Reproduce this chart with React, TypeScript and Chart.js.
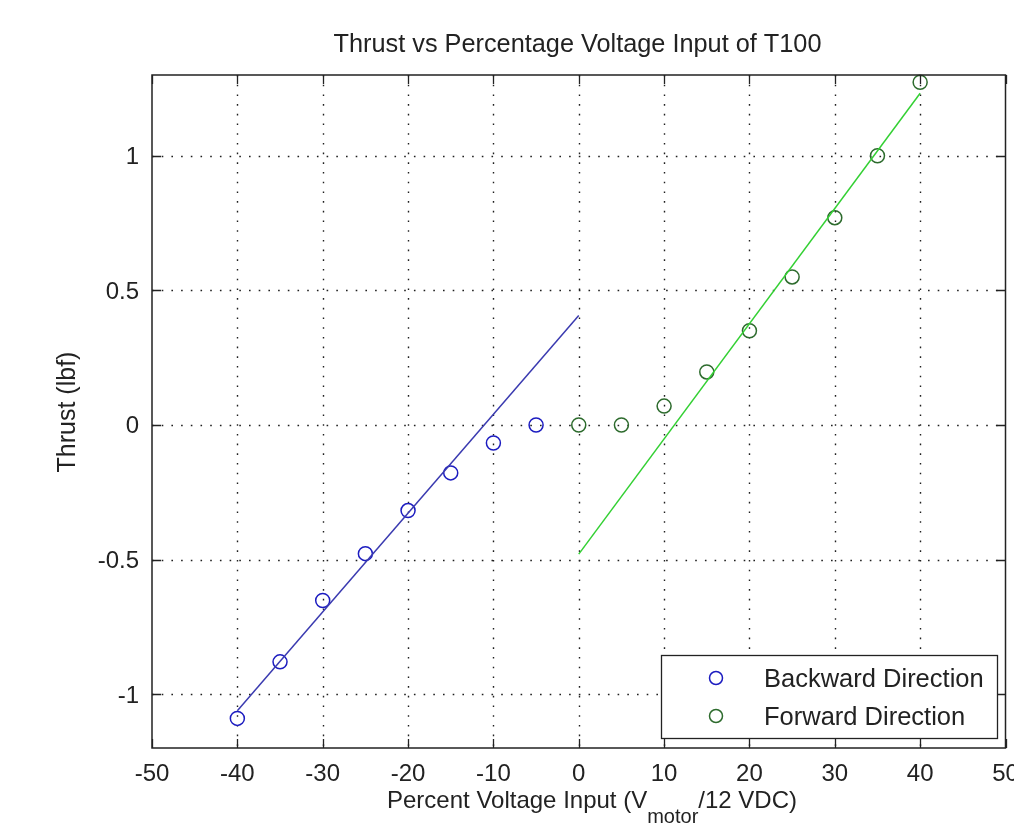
import React, { useEffect, useRef } from "react";
import { Chart, registerables } from "chart.js";

Chart.register(...registerables);

// ---- data ----
const xTickValues = [-50, -40, -30, -20, -10, 0, 10, 20, 30, 40, 50];
const yTickValues = [-1, -0.5, 0, 0.5, 1];
const yTickLabels = ["-1", "-0.5", "0", "0.5", "1"];

const backwardX = [-40, -35, -30, -25, -20, -15, -10, -5];
const backwardY = [-1.09, -0.88, -0.652, -0.478, -0.318, -0.178, -0.067, 0.0];

const forwardX = [0, 5, 10, 15, 20, 25, 30, 35, 40];
const forwardY = [0.0, 0.0, 0.07, 0.197, 0.35, 0.55, 0.77, 1.0, 1.273];

const backwardFitX = [-40, 0];
const backwardFitY = [-1.062, 0.407];
const forwardFitX = [0, 40];
const forwardFitY = [-0.48, 1.232];

const titleText = "Thrust vs Percentage Voltage Input of T100";
const yLabelText = "Thrust (lbf)";
const xLabelMain = "Percent Voltage Input (V";
const xLabelSub = "motor";
const xLabelEnd = "/12 VDC)";
const legendLabels = ["Backward Direction", "Forward Direction"];

const FONT = "'Liberation Sans', Arial, Helvetica, sans-serif";
const BLUE_MARK = "#1c1cc0";
const GREEN_MARK = "#2d6b2d";
const BLUE_LINE = "#3a3ab0";
const GREEN_LINE = "#33d033";
const TEXT = "#222222";

const toPts = (xs: number[], ys: number[]) => xs.map((x, i) => ({ x, y: ys[i] }));

const matlabPlugin = {
  id: "matlabDecor",
  beforeDatasetsDraw(chart: any) {
    const { ctx, chartArea: a, scales } = chart;
    const xs = scales.x;
    const ys = scales.y;
    ctx.save();
    ctx.strokeStyle = "#202020";
    ctx.lineWidth = 1.4;
    ctx.setLineDash([1.6, 8.1]);
    xTickValues.forEach((v) => {
      const px = Math.round(xs.getPixelForValue(v)) + 0.5;
      if (px <= a.left + 2 || px >= a.right - 2) return;
      ctx.beginPath();
      ctx.moveTo(px, a.top);
      ctx.lineTo(px, a.bottom);
      ctx.stroke();
    });
    yTickValues.forEach((v) => {
      const py = Math.round(ys.getPixelForValue(v)) + 0.5;
      ctx.beginPath();
      ctx.moveTo(a.left, py);
      ctx.lineTo(a.right, py);
      ctx.stroke();
    });
    ctx.restore();
  },
  afterDatasetsDraw(chart: any) {
    const { ctx, chartArea: a, scales } = chart;
    const xs = scales.x;
    const ys = scales.y;
    ctx.save();
    ctx.setLineDash([]);
    ctx.strokeStyle = "#222";
    ctx.lineWidth = 1.5;
    ctx.strokeRect(a.left, a.top, a.right - a.left, a.bottom - a.top);
    const tl = 9;
    ctx.lineWidth = 1.3;
    xTickValues.forEach((v) => {
      const px = Math.round(xs.getPixelForValue(v)) + 0.5;
      ctx.beginPath();
      ctx.moveTo(px, a.bottom);
      ctx.lineTo(px, a.bottom - tl);
      ctx.moveTo(px, a.top);
      ctx.lineTo(px, a.top + tl);
      ctx.stroke();
    });
    yTickValues.forEach((v) => {
      const py = Math.round(ys.getPixelForValue(v)) + 0.5;
      ctx.beginPath();
      ctx.moveTo(a.left, py);
      ctx.lineTo(a.left + tl, py);
      ctx.moveTo(a.right, py);
      ctx.lineTo(a.right - tl, py);
      ctx.stroke();
    });

    // tick labels
    ctx.fillStyle = TEXT;
    ctx.font = `24px ${FONT}`;
    ctx.textAlign = "center";
    ctx.textBaseline = "alphabetic";
    xTickValues.forEach((v) => {
      ctx.fillText(String(v), xs.getPixelForValue(v), a.bottom + 33);
    });
    ctx.textAlign = "right";
    yTickValues.forEach((v, i) => {
      ctx.fillText(yTickLabels[i], a.left - 13, ys.getPixelForValue(v) + 8.5);
    });

    // title
    ctx.font = `25.3px ${FONT}`;
    ctx.textAlign = "center";
    ctx.fillText(titleText, 577.5, 52);

    // y label
    ctx.save();
    ctx.font = `25px ${FONT}`;
    ctx.translate(75, 412);
    ctx.rotate(-Math.PI / 2);
    ctx.textAlign = "center";
    ctx.fillText(yLabelText, 0, 0);
    ctx.restore();

    // x label with subscript
    ctx.textAlign = "left";
    ctx.font = `24px ${FONT}`;
    const w1 = ctx.measureText(xLabelMain).width;
    const w3 = ctx.measureText(xLabelEnd).width;
    ctx.font = `20px ${FONT}`;
    const w2 = ctx.measureText(xLabelSub).width;
    const total = w1 + w2 + w3;
    let sx = 592 - total / 2;
    const by = 808;
    ctx.font = `24px ${FONT}`;
    ctx.fillText(xLabelMain, sx, by);
    sx += w1;
    ctx.font = `20px ${FONT}`;
    ctx.fillText(xLabelSub, sx, by + 15);
    sx += w2;
    ctx.font = `24px ${FONT}`;
    ctx.fillText(xLabelEnd, sx, by);

    // legend
    const lx = 661, ly = 655, lw = 336, lh = 83;
    ctx.fillStyle = "#ffffff";
    ctx.fillRect(lx, ly, lw, lh);
    ctx.strokeStyle = "#222";
    ctx.lineWidth = 1.3;
    ctx.strokeRect(lx + 0.5, ly + 0.5, lw, lh);
    const rows = [
      { y: 678, color: BLUE_MARK, label: legendLabels[0] },
      { y: 716, color: GREEN_MARK, label: legendLabels[1] },
    ];
    rows.forEach((r) => {
      ctx.beginPath();
      ctx.strokeStyle = r.color;
      ctx.lineWidth = 1.5;
      ctx.arc(716, r.y, 6.5, 0, Math.PI * 2);
      ctx.stroke();
      ctx.fillStyle = TEXT;
      ctx.font = `25.5px ${FONT}`;
      ctx.textAlign = "left";
      ctx.fillText(r.label, 764, r.y + 9);
    });
    ctx.restore();
  },
};

export default function App() {
  const ref = useRef<HTMLCanvasElement | null>(null);
  useEffect(() => {
    if (!ref.current) return;
    const chart = new Chart(ref.current, {
      type: "scatter",
      data: {
        datasets: [
          {
            label: "Backward fit",
            data: toPts(backwardFitX, backwardFitY),
            showLine: true,
            borderColor: BLUE_LINE,
            borderWidth: 1.5,
            pointRadius: 0,
            clip: false as any,
          },
          {
            label: "Forward fit",
            data: toPts(forwardFitX, forwardFitY),
            showLine: true,
            borderColor: GREEN_LINE,
            borderWidth: 1.5,
            pointRadius: 0,
            clip: false as any,
          },
          {
            label: legendLabels[0],
            data: toPts(backwardX, backwardY),
            showLine: false,
            pointStyle: "circle",
            pointRadius: 7,
            pointBorderWidth: 1.5,
            borderColor: BLUE_MARK,
            backgroundColor: "rgba(0,0,0,0)",
            clip: false as any,
          },
          {
            label: legendLabels[1],
            data: toPts(forwardX, forwardY),
            showLine: false,
            pointStyle: "circle",
            pointRadius: 7,
            pointBorderWidth: 1.5,
            borderColor: GREEN_MARK,
            backgroundColor: "rgba(0,0,0,0)",
            clip: false as any,
          },
        ],
      },
      options: {
        responsive: false,
        animation: false,
        layout: { padding: { left: 152, top: 75, right: 6, bottom: 77 } },
        plugins: {
          legend: { display: false },
          title: { display: false },
          tooltip: { enabled: false },
        },
        events: [],
        scales: {
          x: {
            type: "linear",
            min: -50,
            max: 50,
            ticks: { display: false },
            grid: { display: false },
            border: { display: false },
            afterBuildTicks: (s: any) => {
              s.ticks = xTickValues.map((v) => ({ value: v }));
            },
            afterFit: (s: any) => {
              s.height = 0;
            },
          },
          y: {
            type: "linear",
            min: -1.2,
            max: 1.3,
            ticks: { display: false },
            grid: { display: false },
            border: { display: false },
            afterBuildTicks: (s: any) => {
              s.ticks = yTickValues.map((v) => ({ value: v }));
            },
            afterFit: (s: any) => {
              s.width = 0;
            },
          },
        },
      },
      plugins: [matlabPlugin],
    } as any);
    return () => chart.destroy();
  }, []);
  return (
    <div style={{ position: "absolute", left: 0, top: 0, width: 1014, height: 825, background: "#fff" }}>
      <canvas ref={ref} width={1014} height={825} />
    </div>
  );
}
